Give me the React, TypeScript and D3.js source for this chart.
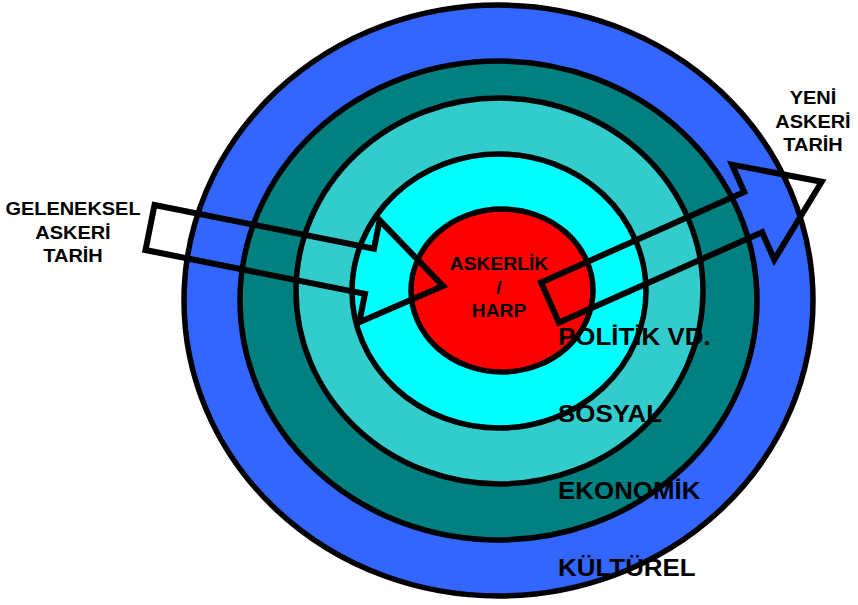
import React, { useRef, useEffect } from 'react';
import * as d3 from 'd3';

// rings from outside to the core
const ringLabels = ['KÜLTÜREL', 'EKONOMİK', 'SOSYAL', 'POLİTİK VD.'];
const ringColors = ['#3366FF', '#008080', '#33CCCC', '#00FFFF', '#FF0000'];
const coreLabel = ['ASKERLİK', '/', 'HARP'];
const leftLabel = ['GELENEKSEL', 'ASKERİ', 'TARİH'];
const rightLabel = ['YENİ', 'ASKERİ', 'TARİH'];

const W = 858;
const H = 605;

type Pt = [number, number];

// block arrow outline from tail centre to tip
const arrowPoints = (tail: Pt, tip: Pt, shaft: number, head: number, headLen: number): Pt[] => {
  const dx = tip[0] - tail[0];
  const dy = tip[1] - tail[1];
  const len = Math.hypot(dx, dy);
  const ux = dx / len, uy = dy / len;
  const nx = -uy, ny = ux;
  const bx = tip[0] - ux * headLen, by = tip[1] - uy * headLen;
  return [
    [tail[0] - nx * shaft, tail[1] - ny * shaft],
    [bx - nx * shaft, by - ny * shaft],
    [bx - nx * head, by - ny * head],
    tip,
    [bx + nx * head, by + ny * head],
    [bx + nx * shaft, by + ny * shaft],
    [tail[0] + nx * shaft, tail[1] + ny * shaft],
  ];
};

const Target = () => {
  const svgRef = useRef<SVGSVGElement>(null);

  useEffect(() => {
    const svg = d3.select(svgRef.current);
    svg.selectAll('*').remove();

    // ellipse layout, outer to inner
    const shapes = [
      { cx: 498.5, cy: 300.5, rx: 314.5, ry: 295.5 },
      { cx: 498.5, cy: 300.5, rx: 258.5, ry: 239.5 },
      { cx: 499.5, cy: 291, rx: 203.5, ry: 193 },
      { cx: 499, cy: 291, rx: 147, ry: 137 },
      { cx: 502, cy: 290.5, rx: 91, ry: 81.5 },
    ];

    svg.append('g')
      .selectAll('ellipse')
      .data(ringColors)
      .join('ellipse')
      .attr('cx', (d, i) => shapes[i].cx)
      .attr('cy', (d, i) => shapes[i].cy)
      .attr('rx', (d, i) => shapes[i].rx)
      .attr('ry', (d, i) => shapes[i].ry)
      .attr('fill', d => d)
      .attr('stroke', '#000')
      .attr('stroke-width', 5.5);

    const line = d3.line<Pt>().curve(d3.curveLinearClosed);
    const arrows = [
      arrowPoints([150, 227.5], [443, 286], 23, 52, 75),
      arrowPoints([550, 302.5], [821.7, 181.7], 22, 52, 75),
    ];
    svg.append('g')
      .selectAll('path')
      .data(arrows)
      .join('path')
      .attr('d', d => line(d))
      .attr('fill', 'none')
      .attr('stroke', '#000')
      .attr('stroke-width', 6)
      .attr('stroke-linejoin', 'miter')
      .attr('stroke-miterlimit', 10);

    const font = '"Liberation Sans", Arial, sans-serif';
    const addText = (g, x: number, y: number, s: string, size: number, sx: number, anchor: string) => {
      g.append('text')
        .attr('transform', `translate(${x},${y}) scale(${sx},1)`)
        .attr('text-anchor', anchor)
        .attr('font-family', font)
        .attr('font-weight', 'bold')
        .attr('font-size', size)
        .attr('fill', '#000')
        .text(s);
    };

    const labels = svg.append('g');

    // ring names down the right side
    const ringY = d3.scaleLinear().domain([0, ringLabels.length - 1]).range([576, 345]);
    ringLabels.forEach((s, i) => addText(labels, 558, ringY(i), s, 24, 1.08, 'start'));

    const lineY = (top: number) => d3.scaleLinear().domain([0, 2]).range([top, top + 47]);

    const coreY = lineY(270);
    coreLabel.forEach((s, i) => addText(labels, 499, coreY(i), s, 17.5, 1.1, 'middle'));

    const leftY = lineY(215);
    leftLabel.forEach((s, i) => addText(labels, 73, leftY(i), s, 19, 1.05, 'middle'));

    const rightY = lineY(104);
    rightLabel.forEach((s, i) => addText(labels, 813, rightY(i), s, 19, 1.05, 'middle'));
  }, []);

  return (
    <svg ref={svgRef} width={W} height={H}
      style={{ position: 'absolute', left: 0, top: 0, background: '#fff' }} />
  );
};

export default function App() {
  return <Target />;
}
